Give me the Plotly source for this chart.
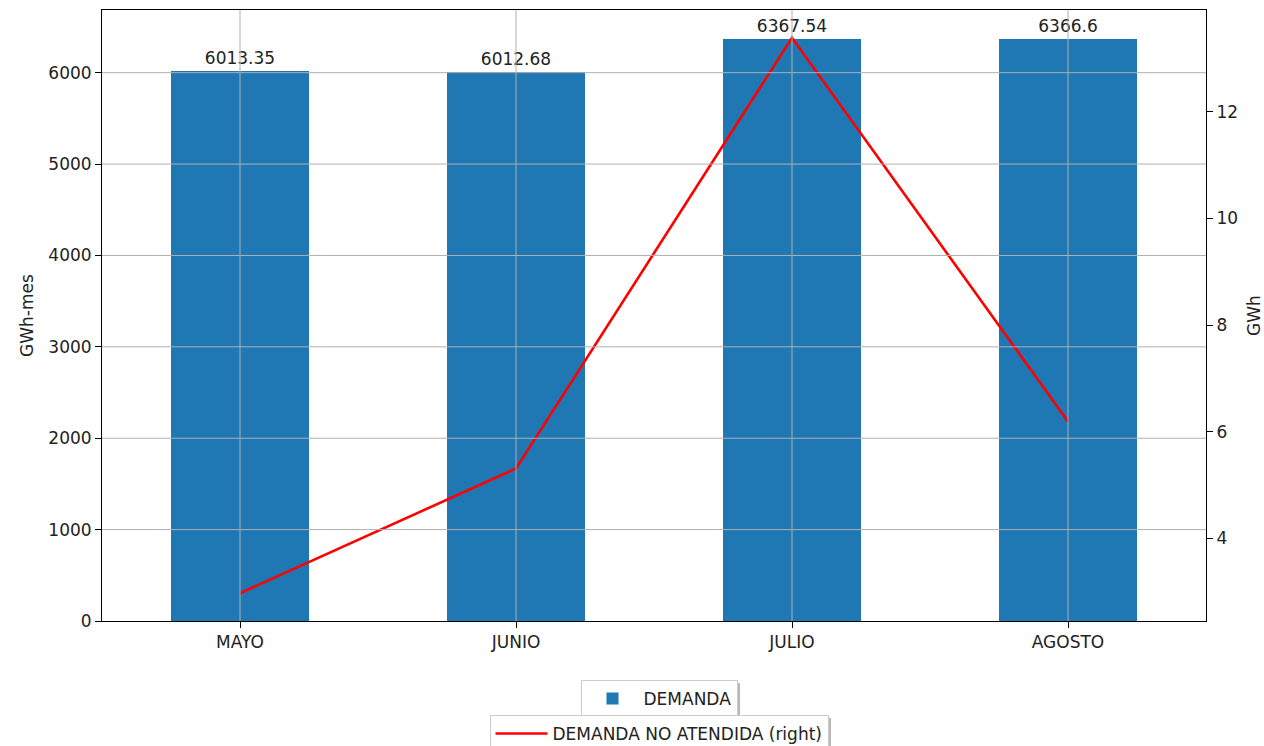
import plotly.graph_objects as go

meses = ["MAYO", "JUNIO", "JULIO", "AGOSTO"]
demanda = [6013.35, 6012.68, 6367.54, 6366.6]
demanda_no_atendida = [2.97, 5.31, 13.39, 6.19]

left_ticks = [0, 1000, 2000, 3000, 4000, 5000, 6000]
right_ticks = [4, 6, 8, 10, 12]

FONT = "DejaVu Sans"
FS = 17
TXT = "#222222"
GRID = "#b0b0b0"

# plot-area geometry in pixels
W, H = 1264, 746
ML, MR, MT, MB = 102, 58, 10, 125
PW, PH = W - ML - MR, H - MT - MB


def px_x(x):
    return (x - ML) / PW


def px_y(y):
    return (H - MB - y) / PH


y_max = max(demanda) * 1.05
r_span = max(demanda_no_atendida) - min(demanda_no_atendida)
r_min = min(demanda_no_atendida) - 0.05 * r_span
r_max = max(demanda_no_atendida) + 0.05 * r_span

fig = go.Figure()

fig.add_trace(go.Bar(
    x=list(range(len(meses))), y=demanda, width=0.5,
    marker=dict(color="#1f77b4", line=dict(width=0)),
    text=[str(v) for v in demanda], textposition="outside",
    textfont=dict(family=FONT, size=FS, color=TXT),
    cliponaxis=False, name="DEMANDA", legend="legend", showlegend=True,
))

fig.add_trace(go.Scatter(
    x=list(range(len(meses))), y=demanda_no_atendida, mode="lines",
    line=dict(color="#ff0000", width=2.6), yaxis="y2",
    name="DEMANDA NO ATENDIDA (right)", legend="legend2", showlegend=True,
))

# grid drawn over the bars, as in the original styling
shapes = []
for i in range(len(meses)):
    shapes.append(dict(type="line", xref="x", yref="paper", x0=i, x1=i, y0=0, y1=1,
                       line=dict(color=GRID, width=1), layer="above"))
for t in left_ticks[1:]:
    shapes.append(dict(type="line", xref="paper", yref="y", x0=0, x1=1, y0=t, y1=t,
                       line=dict(color=GRID, width=1), layer="above"))

# drop shadows behind the two legend boxes
for (x0, x1, y0, y1) in [(582, 737, 680, 714), (490, 828, 715, 760)]:
    shapes.append(dict(type="rect", xref="paper", yref="paper",
                       x0=px_x(x0 + 3), x1=px_x(x1 + 3), y0=px_y(y0 + 3), y1=px_y(y1 + 3),
                       fillcolor="rgba(0,0,0,0.28)", line=dict(width=0), layer="above"))

axis_common = dict(
    zeroline=False, showgrid=False,
    showline=True, linecolor="black", linewidth=1,
    ticks="outside", ticklen=6, tickcolor="black",
    tickfont=dict(family=FONT, size=FS, color=TXT),
)

legend_common = dict(
    xanchor="center", yanchor="top",
    bgcolor="white", bordercolor="#cccccc", borderwidth=1,
    font=dict(family=FONT, size=FS, color=TXT),
)

fig.update_layout(
    width=W, height=H,
    margin=dict(l=ML, r=MR, t=MT, b=MB, autoexpand=False),
    paper_bgcolor="white", plot_bgcolor="white",
    font=dict(family=FONT, size=FS, color=TXT),
    bargap=0,
    showlegend=True,
    shapes=shapes,
    xaxis=dict(
        range=[-0.5, len(meses) - 0.5],
        tickvals=list(range(len(meses))), ticktext=meses,
        mirror=True, **axis_common,
    ),
    yaxis=dict(
        range=[0, y_max], tickvals=left_ticks, mirror=True,
        title=dict(text="GWh-mes", font=dict(family=FONT, size=FS, color=TXT), standoff=10),
        **axis_common,
    ),
    yaxis2=dict(
        overlaying="y", side="right", range=[r_min, r_max], tickvals=right_ticks,
        title=dict(text="GWh", font=dict(family=FONT, size=FS, color=TXT), standoff=15),
        **axis_common,
    ),
    legend=dict(x=px_x(659), y=px_y(680), itemwidth=52, **legend_common),
    legend2=dict(x=px_x(659), y=px_y(715), itemwidth=52, **legend_common),
)

fig.write_html("out.html")
